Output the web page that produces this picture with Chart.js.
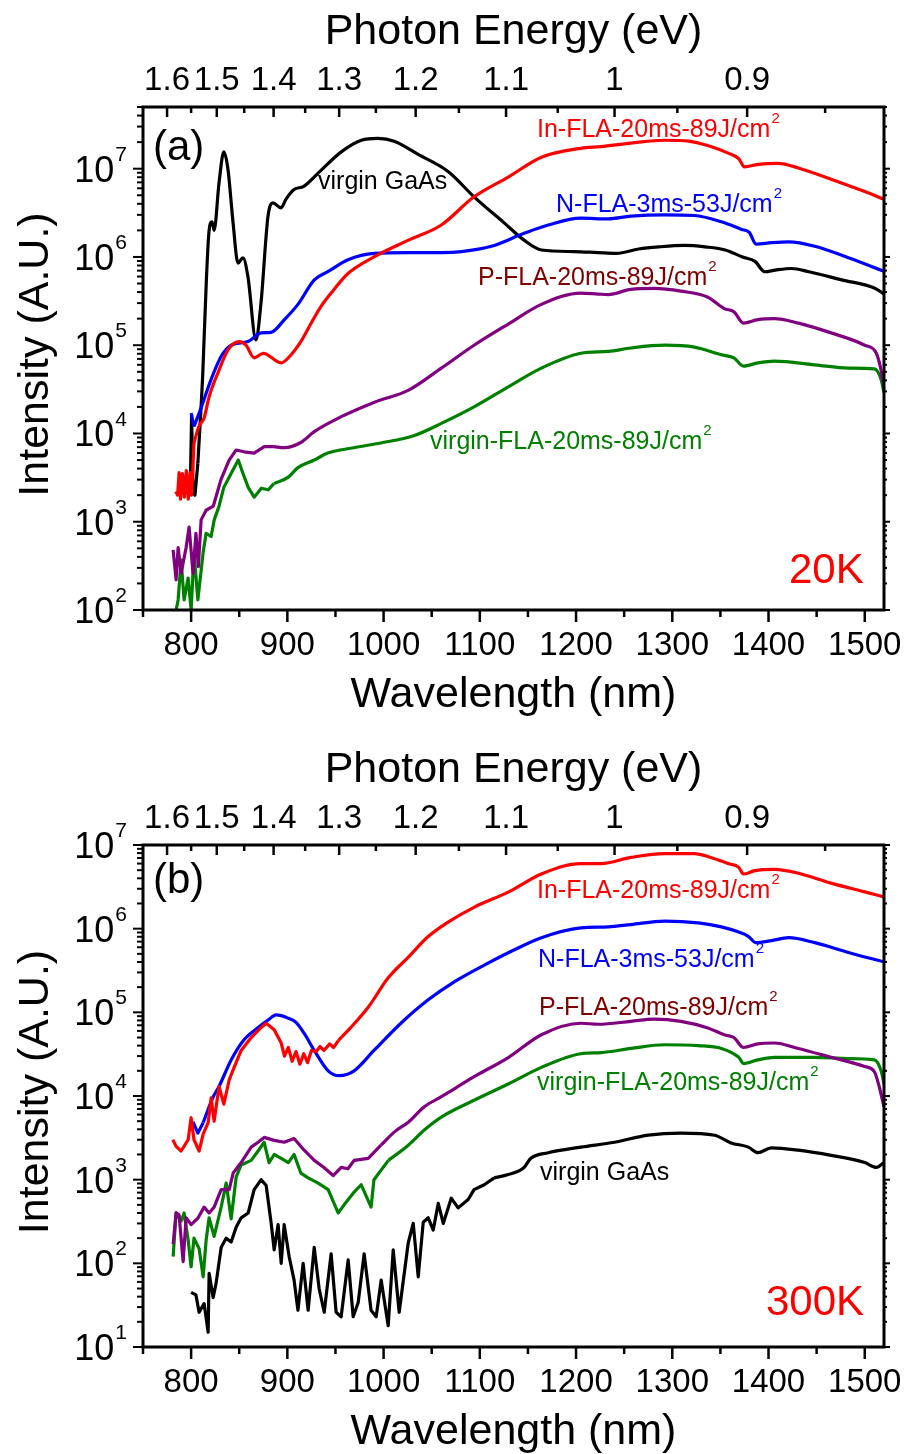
<!DOCTYPE html>
<html>
<head>
<meta charset="utf-8">
<script src="https://cdn.jsdelivr.net/npm/chart.js@4.4.1/dist/chart.umd.min.js"></script>
<style>
  html, body { margin: 0; padding: 0; background: #fff; }
  canvas { display: block; }
</style>
</head>
<body>
<canvas id="pl20" width="905" height="727"></canvas>
<canvas id="pl300" width="905" height="727"></canvas>
<script>
// ---- axis tick labels ----
const wlTicks = [800, 900, 1000, 1100, 1200, 1300, 1400, 1500];
const eMajor = [1.6, 1.5, 1.4, 1.3, 1.2, 1.1, 1.0, 0.9];
const eMajorLabels = ['1.6', '1.5', '1.4', '1.3', '1.2', '1.1', '1', '0.9'];
const eMinor = [1.55, 1.45, 1.35, 1.25, 1.15, 1.05, 0.95, 0.85];

// ---- (a) 20K ----
const wlA_virgin = [799, 800.5, 802, 804, 807, 812, 816, 818.7, 821.8, 823.9, 829, 834, 838.3, 843.5, 848.7, 853.9, 859, 867.4, 872.6, 879.9, 885, 893.4, 898.5, 907, 917, 932, 956, 977, 994, 1011, 1036, 1067, 1094, 1125, 1146, 1164, 1198, 1223, 1242, 1265, 1286, 1313, 1334, 1355, 1373, 1386, 1396, 1407, 1424, 1442, 1476, 1511, 1520];
const plA_virgin = [2.0e3, 1.6e4, 2.2e3, 2.0e3, 4.6e3, 4.5e4, 6.0e5, 2.0e6, 2.5e6, 2.0e6, 6.9e6, 1.55e7, 9.8e6, 2.5e6, 8.5e5, 9.8e5, 6.0e5, 1.15e5, 3.0e5, 2.9e6, 4.1e6, 3.6e6, 4.5e6, 5.8e6, 6.3e6, 8.9e6, 1.55e7, 2.1e7, 2.2e7, 2.05e7, 1.45e7, 9.3e6, 4.8e6, 2.45e6, 1.55e6, 1.2e6, 1.15e6, 1.12e6, 1.1e6, 1.23e6, 1.3e6, 1.35e6, 1.3e6, 1.2e6, 1.0e6, 8.9e5, 6.8e5, 7.1e5, 7.4e5, 6.8e5, 5.5e5, 4.4e5, 3.8e5];

const wlA_in = [784, 786, 787.5, 789, 791, 793, 795, 797, 799, 800.5, 803, 808, 813.5, 818.7, 828, 838.5, 850, 857, 865.5, 875, 893.6, 902, 914, 925, 935, 945.5, 963, 990, 1026, 1060, 1094, 1130, 1164, 1205, 1226, 1257, 1292, 1317, 1340, 1358, 1369, 1375, 1389, 1410, 1431, 1465, 1500, 1520];
const plA_in = [2.2e3, 2.0e3, 3.6e3, 1.8e3, 3.5e3, 1.9e3, 3.8e3, 1.8e3, 3.6e3, 2.0e3, 7.8e3, 1.2e4, 1.5e4, 2.6e4, 4.9e4, 8.9e4, 1.1e5, 1.0e5, 7.2e4, 8.1e4, 6.3e4, 7.4e4, 1.1e5, 1.8e5, 2.75e5, 3.9e5, 6.5e5, 1.0e6, 1.55e6, 2.3e6, 4.8e6, 8.1e6, 1.35e7, 1.7e7, 1.78e7, 1.95e7, 2.1e7, 2.05e7, 1.78e7, 1.5e7, 1.3e7, 1.05e7, 1.12e7, 1.15e7, 1.02e7, 7.6e6, 5.5e6, 4.5e6];

const wlA_n = [800, 803, 810, 820.8, 831, 841.6, 859, 873, 883, 897, 911, 928, 942, 963, 990, 1026, 1060, 1081, 1112, 1146, 1171, 1205, 1233.5, 1257, 1292, 1323, 1351, 1372, 1380, 1387, 1403, 1421, 1448, 1483, 1520];
const plA_n = [1.7e4, 1.2e4, 1.9e4, 4.1e4, 7.4e4, 1.0e5, 1.1e5, 1.38e5, 1.4e5, 1.95e5, 2.9e5, 5.5e5, 6.8e5, 9.3e5, 1.1e6, 1.12e6, 1.12e6, 1.15e6, 1.32e6, 1.85e6, 2.3e6, 2.75e6, 2.7e6, 2.9e6, 3.0e6, 2.95e6, 2.5e6, 2.05e6, 1.9e6, 1.4e6, 1.45e6, 1.48e6, 1.32e6, 9.8e5, 6.9e5];

const wlA_p = [781.3, 784.4, 786.5, 789.6, 794.8, 797.9, 802, 805, 807.5, 810.4, 815.6, 823, 831, 839.5, 846.8, 855, 865.5, 876, 886, 897, 914, 928, 956, 990, 1026, 1060, 1094, 1130, 1164, 1205, 1223, 1233.5, 1257, 1281, 1309, 1337, 1354, 1364, 1374, 1389, 1406, 1431, 1465, 1500, 1512, 1517, 1520];
const plA_p = [4.8e2, 2.2e2, 5.1e2, 2.6e2, 5.1e2, 8.7e2, 2.6e2, 7.4e2, 3.1e2, 1.05e3, 1.35e3, 1.5e3, 3.0e3, 5.0e3, 6.5e3, 6.2e3, 6.0e3, 7.1e3, 7.1e3, 6.9e3, 7.9e3, 1.05e4, 1.55e4, 2.25e4, 3.1e4, 5.5e4, 1.0e5, 1.75e5, 2.9e5, 3.9e5, 3.8e5, 3.75e5, 4.3e5, 4.4e5, 4.1e5, 3.5e5, 2.6e5, 2.4e5, 1.78e5, 1.95e5, 2.0e5, 1.78e5, 1.38e5, 1.0e5, 8.1e4, 5.2e4, 3.3e4];

const wlA_v = [784.4, 786.5, 789.6, 792.7, 796.9, 800, 803, 807, 812.5, 815.6, 820.8, 824, 829, 834, 839.5, 849, 854, 859.3, 865.5, 873, 880, 886, 901, 911, 928, 942, 969, 997, 1032, 1060, 1094, 1130, 1164, 1205, 1233.5, 1257, 1292, 1323, 1351, 1364, 1374, 1389, 1406, 1448, 1483, 1510, 1517, 1520];
const plA_v = [1.0e2, 1.3e2, 3.7e2, 1.3e2, 2.3e2, 1.0e2, 4.5e2, 1.3e2, 4.5e2, 7.4e2, 6.8e2, 1.05e3, 1.5e3, 2.45e3, 3.2e3, 5.0e3, 3.5e3, 2.45e3, 1.9e3, 2.4e3, 2.3e3, 2.7e3, 3.2e3, 4.1e3, 5.0e3, 6.0e3, 6.9e3, 7.8e3, 9.5e3, 1.3e4, 2.0e4, 3.4e4, 5.5e4, 8.1e4, 8.5e4, 9.3e4, 1.0e5, 9.5e4, 7.8e4, 7.2e4, 5.8e4, 6.3e4, 6.6e4, 6.0e4, 5.5e4, 5.4e4, 4.1e4, 2.9e4];

// ---- (b) 300K ----
const wlB_in = [781, 784.4, 789.6, 796.9, 800, 803, 808.3, 812.5, 817.7, 820.8, 823.9, 829, 834, 839.5, 844.7, 852, 862.4, 872.8, 878, 886.3, 893.6, 897, 901, 905, 909, 913, 917, 921, 925, 930, 934, 938, 944, 948, 953, 966, 984, 1005, 1026, 1046, 1067, 1094, 1130, 1164, 1205, 1226, 1257, 1292, 1323, 1340, 1358, 1369, 1374, 1385, 1406, 1431, 1465, 1500, 1520];
const plB_in = [3.0e3, 2.5e3, 2.2e3, 3.0e3, 5.5e3, 3.0e3, 2.2e3, 3.5e3, 4.8e3, 9.5e3, 5.0e3, 1.3e4, 8.0e3, 1.55e4, 2.2e4, 3.5e4, 5.0e4, 6.6e4, 7.4e4, 6.2e4, 4.3e4, 3.0e4, 3.8e4, 2.6e4, 3.4e4, 2.4e4, 3.2e4, 2.5e4, 3.5e4, 3.4e4, 3.9e4, 3.5e4, 4.2e4, 3.8e4, 4.6e4, 6.6e4, 1.15e5, 2.6e5, 4.6e5, 8.0e5, 1.2e6, 1.8e6, 2.75e6, 4.5e6, 6.0e6, 6.0e6, 7.1e6, 7.9e6, 7.9e6, 7.1e6, 6.0e6, 5.4e6, 4.5e6, 4.9e6, 5.1e6, 4.6e6, 3.5e6, 2.75e6, 2.4e6];

const wlB_n = [802, 807, 812.5, 823, 829, 841.6, 855, 869.6, 880, 888.4, 901, 909, 917.5, 928, 942.4, 953.8, 969.4, 990, 1018, 1046, 1073, 1109, 1136, 1164, 1205, 1233.5, 1257, 1292, 1327, 1351, 1369, 1379, 1387, 1403, 1421, 1448, 1483, 1520];
const plB_n = [4.9e3, 3.6e3, 4.8e3, 9.8e3, 1.3e4, 2.7e4, 4.7e4, 6.6e4, 8.1e4, 9.3e4, 8.5e4, 7.6e4, 5.6e4, 3.5e4, 2.0e4, 1.75e4, 2.0e4, 3.5e4, 7.4e4, 1.4e5, 2.3e5, 3.9e5, 5.6e5, 7.8e5, 1.02e6, 1.05e6, 1.12e6, 1.23e6, 1.17e6, 1.05e6, 9.1e5, 8.1e5, 6.8e5, 7.2e5, 7.8e5, 6.8e5, 5.2e5, 4.0e5];

const wlB_p = [781.3, 784.4, 787.5, 791.7, 794.8, 800, 807.3, 813.5, 818.7, 823.9, 831.2, 839.5, 843.7, 852, 862.4, 869.6, 875.9, 886.3, 896.7, 907, 917.5, 928, 938, 947.6, 956, 963, 969.4, 984, 997.5, 1011, 1026, 1042, 1060, 1077.5, 1094, 1130, 1164, 1205, 1223, 1257, 1281, 1309, 1337, 1354, 1364, 1374, 1389, 1406, 1431, 1465, 1500, 1510, 1515, 1520];
const plB_p = [1.7e2, 4.0e2, 3.8e2, 1.05e2, 3.5e2, 2.9e2, 3.5e2, 4.7e2, 4.0e2, 4.7e2, 7.6e2, 7.6e2, 1.2e3, 1.6e3, 2.45e3, 2.8e3, 3.2e3, 2.95e3, 2.8e3, 3.1e3, 2.25e3, 1.7e3, 1.4e3, 1.12e3, 1.4e3, 1.35e3, 1.7e3, 1.8e3, 2.6e3, 3.7e3, 4.9e3, 7.4e3, 9.8e3, 1.3e4, 1.7e4, 2.9e4, 5.4e4, 7.4e4, 7.2e4, 7.8e4, 8.3e4, 7.8e4, 6.5e4, 5.4e4, 5.0e4, 3.8e4, 4.2e4, 4.3e4, 3.7e4, 2.9e4, 2.25e4, 1.95e4, 1.3e4, 7.4e3];

const wlB_v = [781.3, 784.4, 789.6, 792.7, 796.9, 800, 803, 808.3, 812.5, 815.6, 818.7, 823.9, 831.2, 836.4, 841.6, 846.8, 852, 862.4, 869.6, 875.9, 881, 886.3, 893.6, 901, 907, 914, 921.6, 932, 942.4, 952.8, 959, 968.4, 976.7, 987, 990, 1005, 1026, 1042, 1060, 1094, 1130, 1164, 1205, 1226, 1257, 1292, 1327, 1351, 1369, 1374, 1389, 1406, 1448, 1483, 1510, 1517, 1520];
const plB_v = [1.2e2, 4.0e2, 3.2e2, 4.0e2, 1.9e2, 9.1e1, 2.0e2, 1.5e2, 6.9e1, 1.9e2, 3.5e2, 2.1e2, 4.7e2, 9.1e2, 3.4e2, 1.07e3, 1.5e3, 1.7e3, 2.2e3, 2.8e3, 1.6e3, 2.0e3, 1.8e3, 1.6e3, 2.0e3, 1.2e3, 1.05e3, 9.1e2, 7.6e2, 4.0e2, 5.0e2, 6.9e2, 8.7e2, 4.7e2, 1.0e3, 1.7e3, 2.6e3, 3.9e3, 5.6e3, 8.9e3, 1.4e4, 2.2e4, 3.2e4, 3.3e4, 3.7e4, 4.1e4, 4.0e4, 3.7e4, 2.9e4, 2.45e4, 2.7e4, 2.9e4, 2.9e4, 2.8e4, 2.7e4, 2.0e4, 1.4e4];

const wlB_virgin = [800, 805, 808.3, 813.5, 817.7, 818.7, 822.9, 826, 831.2, 836.4, 841.6, 846.8, 852, 859.3, 865.5, 872.8, 878, 883.2, 886.3, 890.4, 893.6, 896.7, 901.9, 907, 911, 916.4, 921.6, 927.9, 933, 938.3, 945.5, 950.7, 955.9, 963.2, 968.4, 973.6, 979.8, 987, 992.3, 997.5, 1004.8, 1010, 1016.2, 1025.6, 1030.8, 1036, 1041.2, 1046.4, 1051.6, 1056.8, 1062, 1070.3, 1077.5, 1087.9, 1094, 1104.6, 1115, 1129.5, 1146, 1153, 1171, 1205, 1240, 1275, 1309, 1344, 1361, 1379, 1389, 1403, 1431, 1465, 1500, 1512, 1520];
const plB_virgin = [4.5e1, 4.2e1, 2.6e1, 3.3e1, 1.5e1, 7.6e1, 3.9e1, 5.8e1, 1.55e2, 2.0e2, 1.8e2, 2.7e2, 3.5e2, 4.0e2, 7.6e2, 1.0e3, 8.5e2, 3.0e2, 1.45e2, 2.9e2, 1.0e2, 2.9e2, 1.2e2, 6.3e1, 2.75e1, 1.0e2, 2.75e1, 1.55e2, 5.0e1, 2.6e1, 1.3e2, 2.6e1, 2.3e1, 1.1e2, 2.3e1, 3.4e1, 1.3e2, 2.75e1, 2.3e1, 6.3e1, 1.8e1, 1.45e2, 2.6e1, 1.75e2, 3.0e2, 6.9e1, 3.1e2, 3.5e2, 2.5e2, 5.2e2, 3.0e2, 6.0e2, 4.6e2, 5.8e2, 7.6e2, 8.7e2, 1.05e3, 1.15e3, 1.4e3, 1.8e3, 2.1e3, 2.45e3, 2.8e3, 3.4e3, 3.6e3, 3.4e3, 2.75e3, 2.45e3, 2.1e3, 2.4e3, 2.25e3, 1.95e3, 1.6e3, 1.4e3, 1.6e3];

const FONT = '"Liberation Sans", Arial, Helvetica, sans-serif';
const RED = '#ff0000', BLUE = '#0000ff', PURPLE = '#800080', GREEN = '#008000', BLACK = '#000000', MAROON = '#800000';

// noisy part (wl <= smoothFrom) drawn with straight segments,
// the rest with a monotone spline
function series(wl, pl, color, smoothFrom) {
  const pts = wl.map((w, i) => ({ x: w, y: pl[i] }));
  const base = { borderColor: color, borderWidth: 3.2, pointRadius: 0, fill: false, borderJoinStyle: 'round', clip: 0 };
  return [
    { ...base, data: pts.filter(p => p.x <= smoothFrom), tension: 0 },
    { ...base, data: pts.filter(p => p.x >= smoothFrom), cubicInterpolationMode: 'monotone' }
  ];
}

function textSup(ctx, main, sup, x, base, size, supSize, color) {
  ctx.fillStyle = color;
  ctx.textAlign = 'left';
  ctx.textBaseline = 'alphabetic';
  ctx.font = size + 'px ' + FONT;
  ctx.fillText(main, x, base);
  const w = ctx.measureText(main).width;
  if (sup) {
    ctx.font = supSize + 'px ' + FONT;
    ctx.fillText(sup, x + w + 1, base - size * 0.58);
  }
}

// axes, ticks and annotations
const decor = {
  id: 'decor',
  afterDatasetsDraw(chart, args, o) {
    const { ctx, chartArea: a } = chart;
    const xs = chart.scales.x, ys = chart.scales.y;
    ctx.save();
    ctx.strokeStyle = '#000';
    ctx.lineCap = 'butt';

    // ticks
    ctx.lineWidth = 2.5;
    const line = (x1, y1, x2, y2) => { ctx.beginPath(); ctx.moveTo(x1, y1); ctx.lineTo(x2, y2); ctx.stroke(); };
    for (let v = 750; v <= 1520; v += 50) {
      const px = xs.getPixelForValue(v);
      const major = v % 100 === 0;
      line(px, a.bottom, px, a.bottom + (major ? 12 : 7));
    }
    eMajor.forEach(e => { const px = xs.getPixelForValue(1240 / e); line(px, a.top, px, a.top + 10); });
    eMinor.forEach(e => { const px = xs.getPixelForValue(1240 / e); line(px, a.top, px, a.top + 6); });
    const eLo = Math.floor(Math.log10(ys.min)), eHi = Math.ceil(Math.log10(ys.max));
    ctx.lineWidth = 2;
    for (let e = eLo; e <= eHi; e++) {
      for (let m = 1; m <= 9; m++) {
        const v = m * Math.pow(10, e);
        if (v < ys.min * 0.999 || v > ys.max * 1.001) continue;
        const py = ys.getPixelForValue(v);
        line(a.left, py, a.left - (m === 1 ? 10 : 6), py);
        line(a.right, py, a.right + (m === 1 ? 6 : 3), py);
      }
    }

    // frame
    ctx.lineWidth = 3;
    ctx.strokeRect(a.left, a.top, a.right - a.left, a.bottom - a.top);

    // tick labels
    ctx.fillStyle = '#000';
    ctx.font = '33px ' + FONT;
    ctx.textAlign = 'center';
    ctx.textBaseline = 'alphabetic';
    wlTicks.forEach(v => ctx.fillText(String(v), xs.getPixelForValue(v), a.bottom + 45));
    eMajor.forEach((e, i) => ctx.fillText(eMajorLabels[i], xs.getPixelForValue(1240 / e), a.top - 17));
    for (let e = eLo; e <= eHi; e++) {
      const v = Math.pow(10, e);
      if (v < ys.min * 0.999 || v > ys.max * 1.001) continue;
      const py = ys.getPixelForValue(v);
      ctx.font = '21px ' + FONT;
      const ws = ctx.measureText(String(e)).width;
      ctx.font = '36px ' + FONT;
      const wm = ctx.measureText('10').width;
      const x0 = a.left - 16 - ws - 1 - wm;
      textSup(ctx, '10', String(e), x0, py + 13, 36, 21, '#000');
    }

    // axis titles
    ctx.fillStyle = '#000';
    ctx.font = '43px ' + FONT;
    ctx.textAlign = 'center';
    const cx = (a.left + a.right) / 2;
    ctx.fillText('Photon Energy (eV)', cx, a.top - 63);
    ctx.fillText('Wavelength (nm)', cx, a.bottom + 97);
    ctx.save();
    ctx.translate(48, (a.top + a.bottom) / 2 - 4);
    ctx.rotate(-Math.PI / 2);
    ctx.fillText('Intensity (A.U.)', 0, 0);
    ctx.restore();

    // annotations
    o.notes.forEach(n => textSup(ctx, n.text, n.sup, n.x, n.y, n.size, n.supSize || 0, n.color));
    ctx.restore();
  }
};

function makeChart(id, sets, yMin, yMax, pad, notes) {
  return new Chart(document.getElementById(id), {
    type: 'line',
    data: { datasets: sets.flat() },
    options: {
      responsive: false,
      animation: false,
      devicePixelRatio: 1,
      layout: { padding: pad },
      plugins: { legend: { display: false }, tooltip: { enabled: false }, decor: { notes } },
      scales: {
        x: { type: 'linear', min: 750, max: 1520, display: false },
        y: { type: 'logarithmic', min: yMin, max: yMax, display: false }
      }
    },
    plugins: [decor]
  });
}

makeChart('pl20', [
  series(wlA_in, plA_in, RED, 803),
  series(wlA_n, plA_n, BLUE, 803),
  series(wlA_virgin, plA_virgin, BLACK, 807),
  series(wlA_p, plA_p, PURPLE, 886),
  series(wlA_v, plA_v, GREEN, 886)
], 1e2, 5e7, { left: 143, right: 21, top: 107, bottom: 117 }, [
  { text: '(a)', x: 153, y: 160, size: 42, color: BLACK },
  { text: 'virgin GaAs', x: 318, y: 189, size: 25, color: BLACK },
  { text: 'In-FLA-20ms-89J/cm', sup: '2', x: 537, y: 137, size: 25, supSize: 15, color: RED },
  { text: 'N-FLA-3ms-53J/cm', sup: '2', x: 556, y: 212, size: 25, supSize: 15, color: BLUE },
  { text: 'P-FLA-20ms-89J/cm', sup: '2', x: 478, y: 285, size: 25, supSize: 15, color: MAROON },
  { text: 'virgin-FLA-20ms-89J/cm', sup: '2', x: 430, y: 449, size: 25, supSize: 15, color: GREEN },
  { text: '20K', x: 789, y: 583, size: 42, color: RED }
]);

makeChart('pl300', [
  series(wlB_in, plB_in, RED, 953),
  series(wlB_n, plB_n, BLUE, 812.5),
  series(wlB_p, plB_p, PURPLE, 997.5),
  series(wlB_v, plB_v, GREEN, 1005),
  series(wlB_virgin, plB_virgin, BLACK, 1115)
], 1e1, 1e7, { left: 143, right: 21, top: 118, bottom: 107 }, [
  { text: '(b)', x: 153, y: 166, size: 42, color: BLACK },
  { text: 'In-FLA-20ms-89J/cm', sup: '2', x: 537, y: 171, size: 25, supSize: 15, color: RED },
  { text: 'N-FLA-3ms-53J/cm', sup: '2', x: 538, y: 240, size: 25, supSize: 15, color: BLUE },
  { text: 'P-FLA-20ms-89J/cm', sup: '2', x: 539, y: 288, size: 25, supSize: 15, color: MAROON },
  { text: 'virgin-FLA-20ms-89J/cm', sup: '2', x: 537, y: 363, size: 25, supSize: 15, color: GREEN },
  { text: 'virgin GaAs', x: 540, y: 453, size: 25, color: BLACK },
  { text: '300K', x: 766, y: 588, size: 42, color: RED }
]);
</script>
</body>
</html>
